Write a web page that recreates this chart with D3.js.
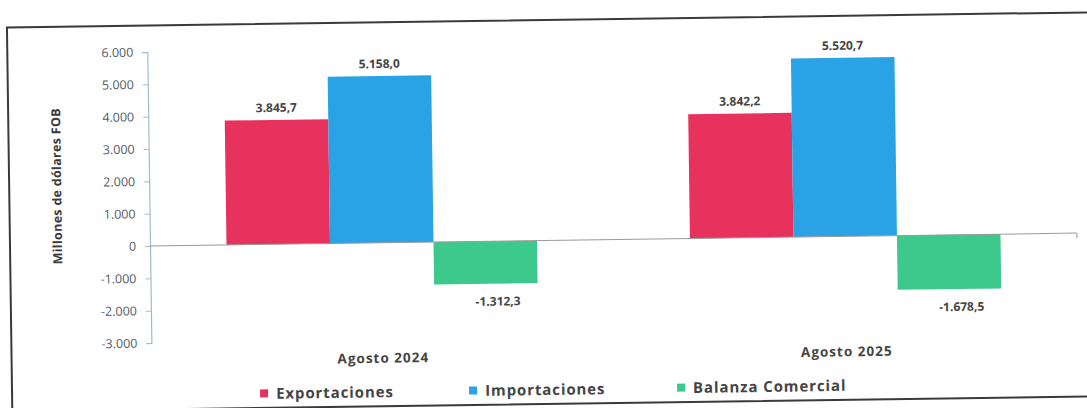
<!DOCTYPE html>
<html>
<head>
<meta charset="utf-8">
<script src="https://cdn.jsdelivr.net/npm/d3@7/dist/d3.min.js"></script>
<style>
  html, body { margin: 0; padding: 0; background: #ffffff; }
  svg { display: block; }
  text { font-family: "Open Sans", "Liberation Sans", sans-serif; }
</style>
</head>
<body>
<svg id="chart" width="1087" height="408"></svg>
<script>
// ---- data ----
const categories = ["Agosto 2024", "Agosto 2025"];
const seriesNames = ["Exportaciones", "Importaciones", "Balanza Comercial"];
const exportaciones = [3845.7, 3842.2];
const importaciones = [5158.0, 5520.7];
const balanza = [-1312.3, -1678.5];
const valueLabels = [["3.845,7", "5.158,0", "-1.312,3"], ["3.842,2", "5.520,7", "-1.678,5"]];
const tickValues = [-3000, -2000, -1000, 0, 1000, 2000, 3000, 4000, 5000, 6000];
const tickLabels = ["-3.000", "-2.000", "-1.000", "0", "1.000", "2.000", "3.000", "4.000", "5.000", "6.000"];
const yTitle = "Millones de dólares FOB";
const colors = ["#e6325c", "#2aa2e6", "#3ec98c"];

// ---- layout ----
const svg = d3.select("#chart");
const root = svg.append("g").attr("transform", "rotate(-0.8,150,245)");

// frame
root.append("rect")
  .attr("x", 10).attr("y", 25.5)
  .attr("width", 1100).attr("height", 384)
  .attr("fill", "none").attr("stroke", "#3a3a3a").attr("stroke-width", 2);

const x0 = d3.scaleBand().domain(categories).range([150, 1077]).paddingInner(0.33).paddingOuter(0.165);
const x1 = d3.scaleBand().domain(seriesNames).range([0, x0.bandwidth()]).padding(0);
const y = d3.scaleLinear().domain([-3000, 6000]).range([343, 52]);

const data = categories.map((c, i) => ({
  cat: c,
  vals: [exportaciones[i], importaciones[i], balanza[i]].map((v, j) => ({ s: seriesNames[j], v, j, label: valueLabels[i][j] }))
}));

// y axis
const yAxis = d3.axisLeft(y).tickValues(tickValues)
  .tickFormat((d, i) => tickLabels[i]).tickSize(5).tickPadding(9);
const gy = root.append("g").attr("transform", "translate(150,0)").call(yAxis);
gy.select(".domain").attr("stroke", "#9fbccc").attr("stroke-width", 1.2);
gy.selectAll(".tick line").attr("stroke", "#9fbccc");
gy.selectAll(".tick text").attr("fill", "#505a66").attr("font-size", 12.5);

// y title
root.append("text")
  .attr("transform", `translate(62,185) rotate(-90)`)
  .attr("text-anchor", "middle")
  .attr("font-size", 12.5).attr("font-weight", "bold").attr("fill", "#3a3a3a")
  .attr("letter-spacing", 0.3)
  .text(yTitle);

// bars
const groups = root.selectAll(".grp").data(data).enter().append("g")
  .attr("transform", d => `translate(${x0(d.cat)},0)`);

groups.selectAll("rect").data(d => d.vals).enter().append("rect")
  .attr("x", d => x1(d.s))
  .attr("width", x1.bandwidth())
  .attr("y", d => y(Math.max(0, d.v)))
  .attr("height", d => Math.abs(y(d.v) - y(0)))
  .attr("fill", d => colors[d.j]);

groups.selectAll(".lbl").data(d => d.vals).enter().append("text")
  .attr("class", "lbl")
  .attr("x", d => x1(d.s) + x1.bandwidth() / 2 + (d.v < 0 ? 12 : 0))
  .attr("y", d => d.v >= 0 ? y(d.v) - 8 : y(d.v) + 22)
  .attr("text-anchor", "middle")
  .attr("font-size", 12).attr("font-weight", "bold").attr("fill", "#444")
  .text(d => d.label);

// zero line (category axis)
root.append("line")
  .attr("x1", 150).attr("x2", 1077)
  .attr("y1", y(0)).attr("y2", y(0))
  .attr("stroke", "#9a9a9a").attr("stroke-width", 1);
root.append("line")
  .attr("x1", 1077).attr("x2", 1077)
  .attr("y1", y(0)).attr("y2", y(0) + 5)
  .attr("stroke", "#9a9a9a").attr("stroke-width", 1);

// category labels
root.selectAll(".cat").data(categories).enter().append("text")
  .attr("x", d => x0(d) + x0.bandwidth() / 2)
  .attr("y", 366)
  .attr("text-anchor", "middle")
  .attr("font-size", 13.5).attr("font-weight", "bold").attr("fill", "#444")
  .attr("letter-spacing", 1)
  .text(d => d);

// legend
const legendX = [258, 467, 675];
const lg = root.selectAll(".leg").data(seriesNames).enter().append("g")
  .attr("transform", (d, i) => `translate(${legendX[i]},395)`);
lg.append("rect").attr("x", 0).attr("y", -4).attr("width", 8).attr("height", 8)
  .attr("fill", (d, i) => colors[i]);
lg.append("text").attr("x", 16).attr("y", 5.5)
  .attr("font-size", 15).attr("font-weight", "bold").attr("fill", "#444")
  .attr("letter-spacing", 0.9)
  .text(d => d);
</script>
</body>
</html>
